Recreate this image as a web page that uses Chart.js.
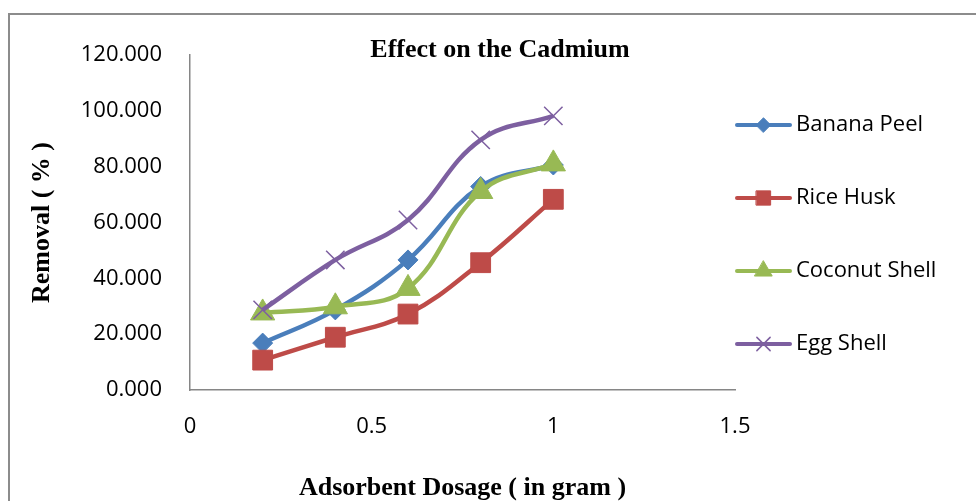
<!DOCTYPE html>
<html>
<head>
<meta charset="utf-8">
<script src="https://cdn.jsdelivr.net/npm/chart.js@4.4.1/dist/chart.umd.min.js"></script>
<style>
  html, body { margin: 0; padding: 0; background: #fff; overflow: hidden; }
  #wrap { position: relative; width: 976px; height: 501px; }
  #frame { position: absolute; left: 8px; top: 13px; width: 1200px; height: 800px; border: 2px solid #8c8c8c; }
  #chart { position: absolute; left: 0; top: 0; }
</style>
</head>
<body>
<div id="wrap">
  <div id="frame"></div>
  <canvas id="chart" width="976" height="501"></canvas>
</div>
<script>
// dosage in gram
const dosage = [0.2, 0.4, 0.6, 0.8, 1.0];

// removal %
const bananaPeel = [16.8, 28.7, 46.6, 72.9, 80.6];
const riceHusk = [10.7, 18.9, 27.2, 45.6, 68.3];
const coconutShell = [27.6, 29.8, 36.4, 71.1, 81.0];
const eggShell = [28.7, 46.6, 60.9, 89.6, 98.2];

const seriesNames = ['Banana Peel', 'Rice Husk', 'Coconut Shell', 'Egg Shell'];
const yTicks = [0, 20, 40, 60, 80, 100, 120];
const xTicks = [0, 0.5, 1, 1.5];

const tickFont = { family: '"Open Sans"', size: 22 };
const serifBold = { family: '"Liberation Serif", "Times New Roman", serif', size: 26, weight: 'bold', lineHeight: 1 };

const styles = [
  { color: '#4a7ebb', pointStyle: 'rectRot', radius: 10, borderWidth: 1 },
  { color: '#be4b48', pointStyle: 'rect', radius: 14, borderWidth: 1 },
  { color: '#98b954', pointStyle: 'triangle', radius: 14, borderWidth: 1 },
  { color: '#7d5fa0', pointStyle: 'crossRot', radius: 13, borderWidth: 1.5 }
];

const toPoints = (ys) => ys.map((y, i) => ({ x: dosage[i], y: y }));
const allSeries = [bananaPeel, riceHusk, coconutShell, eggShell];

const datasets = allSeries.map((ys, i) => ({
  label: seriesNames[i],
  data: toPoints(ys),
  borderColor: styles[i].color,
  backgroundColor: styles[i].color,
  borderWidth: 4.5,
  tension: 0.4,
  showLine: true,
  pointStyle: styles[i].pointStyle,
  pointRadius: styles[i].radius,
  pointBorderWidth: styles[i].borderWidth,
  pointBackgroundColor: styles[i].color,
  pointBorderColor: styles[i].color,
  order: 4 - i
}));

// title sits over the top of the plot, like the Excel original
const titlePlugin = {
  id: 'overlayTitle',
  afterDraw(chart) {
    const ctx = chart.ctx;
    ctx.save();
    ctx.font = 'bold 26px "Liberation Serif", "Times New Roman", serif';
    ctx.fillStyle = '#000';
    ctx.textAlign = 'center';
    ctx.textBaseline = 'middle';
    ctx.fillText('Effect on the Cadmium', chart.width / 2 + 12, chart.chartArea.top - 5);
    ctx.restore();
  }
};

// legend: line with marker in the middle, placed right of the plot
const legendPlugin = {
  id: 'lineLegend',
  afterDraw(chart) {
    const ctx = chart.ctx;
    const area = chart.chartArea;
    const step = 73;
    const midY = (area.top + area.bottom) / 2 + 12;
    ctx.save();
    seriesNames.forEach((name, i) => {
      const s = styles[i];
      const y = midY + (i - 1.5) * step;
      const x0 = area.right + 2;
      ctx.strokeStyle = s.color;
      ctx.lineWidth = 4;
      ctx.lineCap = 'round';
      ctx.beginPath();
      ctx.moveTo(x0, y);
      ctx.lineTo(x0 + 53, y);
      ctx.stroke();
      ctx.fillStyle = s.color;
      ctx.lineWidth = s.borderWidth;
      Chart.helpers.drawPoint(ctx, { pointStyle: s.pointStyle, radius: s.radius * 0.72, rotation: 0, borderWidth: s.borderWidth }, x0 + 26.5, y);
      ctx.fillStyle = '#000';
      ctx.font = '22px "Open Sans"';
      ctx.textAlign = 'left';
      ctx.textBaseline = 'middle';
      ctx.fillText(name, x0 + 59, y);
    });
    ctx.restore();
  }
};

new Chart(document.getElementById('chart'), {
  type: 'scatter',
  data: { datasets: datasets },
  plugins: [titlePlugin, legendPlugin],
  options: {
    responsive: false,
    animation: false,
    layout: { padding: { top: 55, right: 241, left: 0, bottom: 0 } },
    plugins: {
      tooltip: { enabled: false },
      legend: { display: false }
    },
    scales: {
      x: {
        type: 'linear',
        min: 0,
        max: 1.5,
        afterBuildTicks: (scale) => { scale.ticks = xTicks.map(v => ({ value: v })); },
        afterFit: (scale) => { scale.height = 111; },
        grid: { display: false, drawTicks: false },
        border: { display: true, color: '#868686', width: 1.5 },
        ticks: { color: '#000', font: tickFont, padding: 24, callback: (v) => String(v) },
        title: { display: true, text: 'Adsorbent Dosage ( in gram )', color: '#000', font: serifBold, padding: { top: 0, bottom: 0 } }
      },
      y: {
        min: 0,
        max: 120,
        afterBuildTicks: (scale) => { scale.ticks = yTicks.map(v => ({ value: v })); },
        afterFit: (scale) => { scale.width = 190; },
        grid: { display: false, drawTicks: false },
        border: { display: true, color: '#868686', width: 1.5 },
        ticks: { color: '#000', font: tickFont, padding: 28, callback: (v) => Number(v).toFixed(3) },
        title: { display: true, text: 'Removal ( % )', color: '#000', font: serifBold, padding: { top: 29, bottom: 0 } }
      }
    }
  }
});
</script>
</body>
</html>
